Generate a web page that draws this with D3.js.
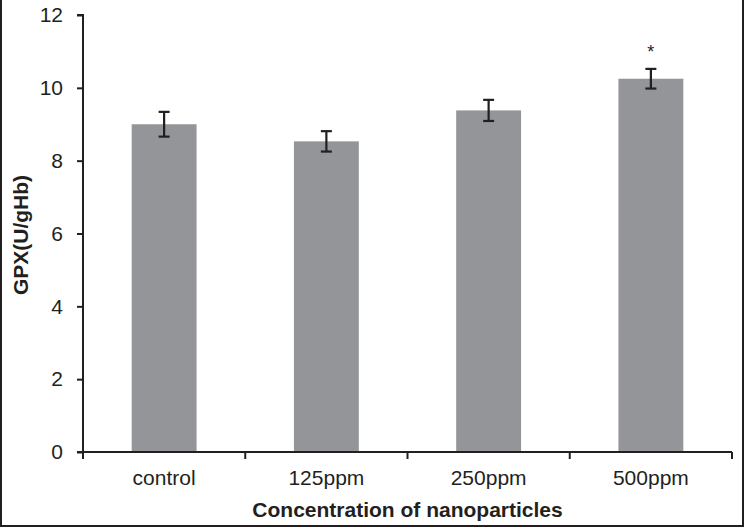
<!DOCTYPE html>
<html><head><meta charset="utf-8">
<script src="https://cdn.jsdelivr.net/npm/d3@7"></script>
<style>body{margin:0;background:#fff;} svg{display:block;}</style>
</head><body>
<svg id="c" width="745" height="529"></svg>
<script>
const categories = ["control", "125ppm", "250ppm", "500ppm"];
const values = [9.0, 8.53, 9.38, 10.25];
const errors = [0.34, 0.28, 0.29, 0.27];
const marks = ["", "", "", "*"];
const yTicks = [0, 2, 4, 6, 8, 10, 12];

const svg = d3.select("#c");
const W = 745, H = 529;
const m = {left: 83, right: 13, top: 15, bottom: 77};
const ink = "#231f20";
const font = "'Liberation Sans', Arial, Helvetica, sans-serif";

// frame
svg.append("rect").attr("x", 1).attr("y", -2).attr("width", W - 3).attr("height", H - 1)
  .attr("fill", "none").attr("stroke", ink).attr("stroke-width", 2);

const x = d3.scaleBand().domain(categories).range([m.left, W - m.right]).paddingInner(0.6).paddingOuter(0.3);
const xb = d3.scaleLinear().domain([0, categories.length]).range([m.left, W - m.right]);
const y = d3.scaleLinear().domain([0, 12]).range([H - m.bottom, m.top]);

// bars
svg.append("g").selectAll("rect").data(categories).join("rect")
  .attr("x", d => x(d)).attr("width", x.bandwidth())
  .attr("y", (d, i) => y(values[i])).attr("height", (d, i) => y(0) - y(values[i]))
  .attr("fill", "#939598");

// error bars
const eb = svg.append("g").attr("stroke", ink).attr("stroke-width", 2.2);
categories.forEach((c, i) => {
  const cx = x(c) + x.bandwidth() / 2;
  eb.append("line").attr("x1", cx).attr("x2", cx).attr("y1", y(values[i] + errors[i])).attr("y2", y(values[i] - errors[i]));
  [1, -1].forEach(s => eb.append("line").attr("x1", cx - 5.5).attr("x2", cx + 5.5)
    .attr("y1", y(values[i] + s * errors[i])).attr("y2", y(values[i] + s * errors[i])));
  if (marks[i]) svg.append("text").attr("x", cx).attr("y", y(values[i] + errors[i]) - 11)
    .attr("text-anchor", "middle").attr("font-family", font).attr("font-size", 18).attr("fill", ink).text(marks[i]);
});

// y axis
const ya = svg.append("g").attr("transform", `translate(${m.left},0)`)
  .call(d3.axisLeft(y).tickValues(yTicks).tickSize(6).tickPadding(14).tickFormat(d3.format("d")));
ya.select(".domain").attr("stroke", ink).attr("stroke-width", 2).attr("d", `M-6,${y(12)}H0V${y(0)}`);
ya.selectAll(".tick line").attr("stroke", ink).attr("stroke-width", 2);
ya.selectAll(".tick text").attr("font-family", font).attr("font-size", 21).attr("fill", ink);

// x axis
const xa = svg.append("g").attr("transform", `translate(0,${y(0)})`)
  .call(d3.axisBottom(x).tickSize(0).tickPadding(18));
xa.select(".domain").attr("stroke", ink).attr("stroke-width", 2).attr("d", `M${m.left - 6},0H${W - m.right}`);
xa.selectAll(".tick text").attr("font-family", font).attr("font-size", 21).attr("fill", ink);
xa.selectAll("line.bt").data(d3.range(categories.length + 1)).join("line").attr("class", "bt")
  .attr("x1", d => xb(d)).attr("x2", d => xb(d)).attr("y1", 0).attr("y2", 7)
  .attr("stroke", ink).attr("stroke-width", 2);

// titles
svg.append("text").attr("x", (m.left + W - m.right) / 2).attr("y", 517).attr("text-anchor", "middle")
  .attr("font-family", font).attr("font-weight", "bold").attr("font-size", 21).attr("fill", ink)
  .text("Concentration of nanoparticles");
svg.append("text").attr("transform", `translate(28,235) rotate(-90)`).attr("text-anchor", "middle")
  .attr("font-family", font).attr("font-weight", "bold").attr("font-size", 21).attr("fill", ink)
  .text("GPX(U/gHb)");
</script>
</body></html>
